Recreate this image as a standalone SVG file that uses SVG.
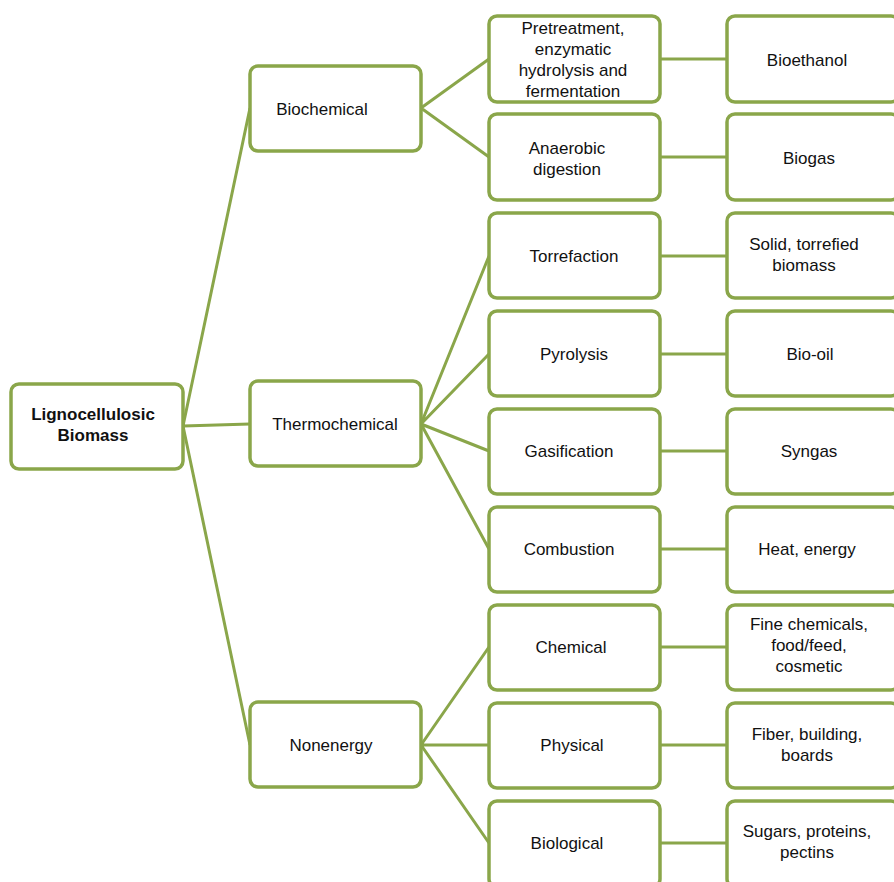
<svg xmlns="http://www.w3.org/2000/svg" width="894" height="882" viewBox="0 0 894 882">
  <style>
    .box { fill: #ffffff; stroke: #8aa64a; stroke-width: 3.5; }
    .link { fill: none; stroke: #8aa64a; stroke-width: 3; }
    text { font-family: "Liberation Sans", Arial, sans-serif; font-size: 17px; fill: #111111; text-anchor: middle; }
    .bold { font-weight: bold; }
  </style>
  <rect width="894" height="882" fill="#ffffff"/>

  <!-- connectors -->
  <g id="connectors">
    <path class="link" d="M183,426 L250,108 M183,426 L250,424 M183,426 L250,745"/>
    <path class="link" d="M421,108 L489,59 M421,108 L489,157"/>
    <path class="link" d="M421,424 L489,256 M421,424 L489,354 M421,424 L489,451 M421,424 L489,549"/>
    <path class="link" d="M421,745 L489,647 M421,745 L489,745 M421,745 L489,843"/>
    <path class="link" d="M660,59 H727 M660,157 H727 M660,256 H727 M660,354 H727 M660,451 H727 M660,549 H727 M660,647 H727 M660,745 H727 M660,843 H727"/>
  </g>

  <!-- root -->
  <g id="root">
    <rect class="box" x="11" y="384" width="172" height="85" rx="8"/>
    <text class="bold" x="93" y="420">Lignocellulosic</text>
    <text class="bold" x="93" y="441">Biomass</text>
  </g>

  <!-- conversion routes -->
  <g id="biochemical">
    <rect class="box" x="250" y="66" width="171" height="85" rx="8"/>
    <text x="322" y="115">Biochemical</text>
  </g>
  <g id="thermochemical">
    <rect class="box" x="250" y="381" width="171" height="85" rx="8"/>
    <text x="335" y="430">Thermochemical</text>
  </g>
  <g id="nonenergy">
    <rect class="box" x="250" y="702" width="171" height="85" rx="8"/>
    <text x="331" y="751">Nonenergy</text>
  </g>

  <!-- processes -->
  <g id="pretreatment">
    <rect class="box" x="489" y="16" width="171" height="86" rx="8"/>
    <text x="573" y="34">Pretreatment,</text>
    <text x="573" y="55">enzymatic</text>
    <text x="573" y="76">hydrolysis and</text>
    <text x="573" y="97">fermentation</text>
  </g>
  <g id="anaerobic">
    <rect class="box" x="489" y="114" width="171" height="86" rx="8"/>
    <text x="567" y="154">Anaerobic</text>
    <text x="567" y="175">digestion</text>
  </g>
  <g id="torrefaction">
    <rect class="box" x="489" y="213" width="171" height="85" rx="8"/>
    <text x="574" y="262">Torrefaction</text>
  </g>
  <g id="pyrolysis">
    <rect class="box" x="489" y="311" width="171" height="85" rx="8"/>
    <text x="574" y="360">Pyrolysis</text>
  </g>
  <g id="gasification">
    <rect class="box" x="489" y="409" width="171" height="85" rx="8"/>
    <text x="569" y="457">Gasification</text>
  </g>
  <g id="combustion">
    <rect class="box" x="489" y="507" width="171" height="85" rx="8"/>
    <text x="569" y="555">Combustion</text>
  </g>
  <g id="chemical">
    <rect class="box" x="489" y="605" width="171" height="85" rx="8"/>
    <text x="571" y="653">Chemical</text>
  </g>
  <g id="physical">
    <rect class="box" x="489" y="703" width="171" height="85" rx="8"/>
    <text x="572" y="751">Physical</text>
  </g>
  <g id="biological">
    <rect class="box" x="489" y="801" width="171" height="86" rx="8"/>
    <text x="567" y="849">Biological</text>
  </g>

  <!-- products -->
  <g id="bioethanol">
    <rect class="box" x="727" y="16" width="172" height="86" rx="8"/>
    <text x="807" y="66">Bioethanol</text>
  </g>
  <g id="biogas">
    <rect class="box" x="727" y="114" width="172" height="86" rx="8"/>
    <text x="809" y="164">Biogas</text>
  </g>
  <g id="torrefied">
    <rect class="box" x="727" y="213" width="172" height="85" rx="8"/>
    <text x="804" y="250">Solid, torrefied</text>
    <text x="804" y="271">biomass</text>
  </g>
  <g id="biooil">
    <rect class="box" x="727" y="311" width="172" height="85" rx="8"/>
    <text x="810" y="360">Bio-oil</text>
  </g>
  <g id="syngas">
    <rect class="box" x="727" y="409" width="172" height="85" rx="8"/>
    <text x="809" y="457">Syngas</text>
  </g>
  <g id="heat">
    <rect class="box" x="727" y="507" width="172" height="85" rx="8"/>
    <text x="807" y="555">Heat, energy</text>
  </g>
  <g id="finechem">
    <rect class="box" x="727" y="605" width="172" height="85" rx="8"/>
    <text x="809" y="630">Fine chemicals,</text>
    <text x="809" y="651">food/feed,</text>
    <text x="809" y="672">cosmetic</text>
  </g>
  <g id="fiber">
    <rect class="box" x="727" y="703" width="172" height="85" rx="8"/>
    <text x="807" y="740">Fiber, building,</text>
    <text x="807" y="761">boards</text>
  </g>
  <g id="sugars">
    <rect class="box" x="727" y="801" width="172" height="86" rx="8"/>
    <text x="807" y="837">Sugars, proteins,</text>
    <text x="807" y="858">pectins</text>
  </g>
</svg>
